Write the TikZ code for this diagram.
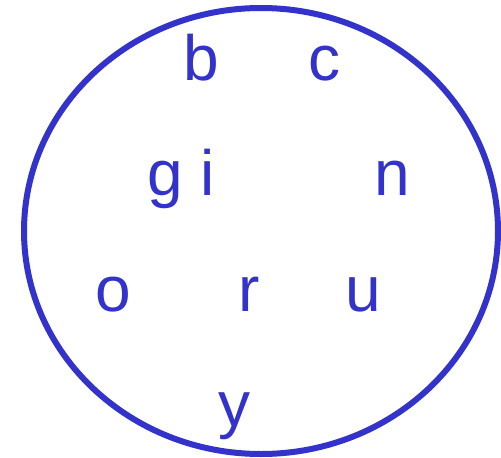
\documentclass[tikz,border=0pt]{standalone}
\usepackage{fontspec}
\setmainfont{Liberation Sans}
\usetikzlibrary{positioning}
\definecolor{setblue}{RGB}{51,51,204}

\begin{document}
\begin{tikzpicture}[
      x=1pt, y=-1pt,
      every node/.style={text=setblue, inner sep=0pt, anchor=base,
        font=\fontsize{64}{70}\selectfont}
    ]
      \useasboundingbox (0,0) rectangle (501,458);
      \draw[setblue, line width=6pt] (261,231) ellipse [x radius=237pt, y radius=223pt];

      \node (b) at (201,80) {b};
      \node (c) at (324,80) {c};
      \node (g) at (165,195) {g};
      \node (i) at (208,195) {i};
      \node (n) at (392,195) {n};
      \node (o) at (113,311) {o};
      \node (r) at (249,311) {r};
      \node (u) at (363,311) {u};
      \node (y) at (234,426) {y};
    \end{tikzpicture}
\end{document}
